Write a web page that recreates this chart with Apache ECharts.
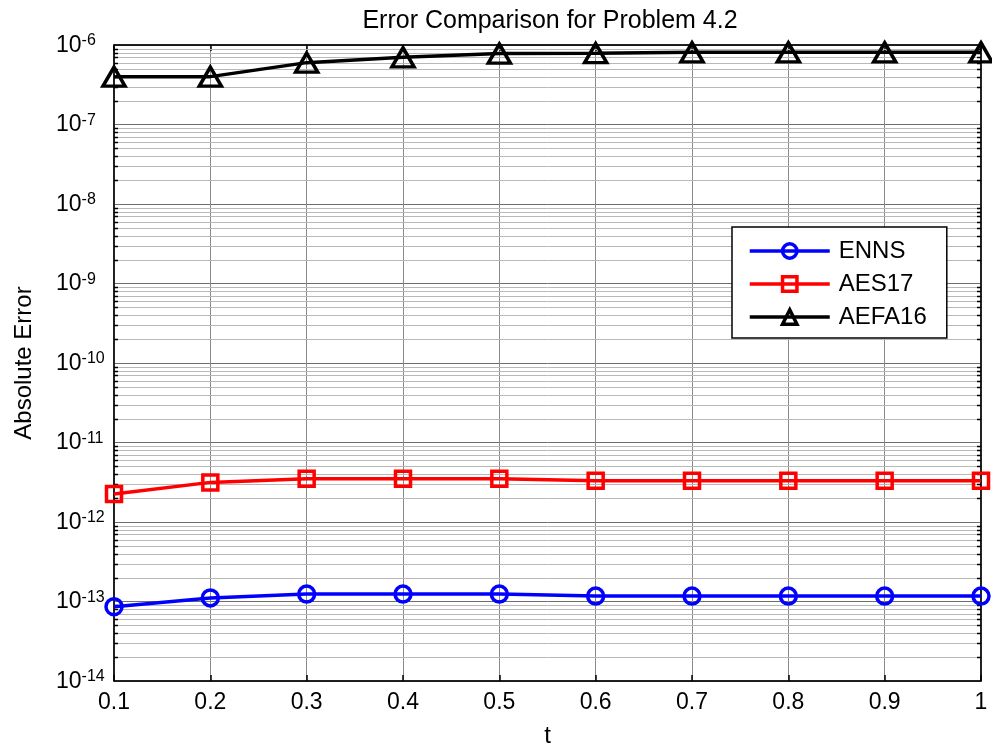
<!DOCTYPE html>
<html>
<head>
<meta charset="utf-8">
<script src="https://cdn.jsdelivr.net/npm/echarts@6/dist/echarts.min.js"></script>
<style>html,body{margin:0;padding:0;background:#fff;}#c{width:992px;height:745px;}</style>
</head>
<body>
<div id="c"></div>
<script>
var tLabels = ['0.1','0.2','0.3','0.4','0.5','0.6','0.7','0.8','0.9','1'];
var enns   = [8.6e-14, 1.11e-13, 1.24e-13, 1.24e-13, 1.24e-13, 1.17e-13, 1.17e-13, 1.17e-13, 1.17e-13, 1.17e-13];
var aes17  = [2.25e-12, 3.15e-12, 3.5e-12, 3.5e-12, 3.5e-12, 3.3e-12, 3.3e-12, 3.3e-12, 3.3e-12, 3.3e-12];
var aefa16 = [4.0e-7, 4.0e-7, 6.0e-7, 7.0e-7, 7.8e-7, 7.9e-7, 8.1e-7, 8.1e-7, 8.1e-7, 8.1e-7];
var seriesNames = ['ENNS', 'AES17', 'AEFA16'];

var FONT = "Arial, 'Liberation Sans', sans-serif";

// minor log grid values (2..9 x 10^e)
var minorVals = [];
for (var e = -14; e < -6; e++) {
  for (var k = 2; k <= 9; k++) {
    minorVals.push([0, k * Math.pow(10, e)]);
  }
}

var chart = echarts.init(document.getElementById('c'), null, { renderer: 'canvas' });

function mk(name, data, color, symbol, size) {
  return {
    name: name,
    type: 'line',
    data: data,
    symbol: symbol,
    symbolSize: size,
    showAllSymbol: true,
    clip: false,
    lineStyle: { color: color, width: 3.5 },
    itemStyle: { color: 'rgba(0,0,0,0)', borderColor: color, borderWidth: 3.5 },
    emphasis: { disabled: true },
    z: 5
  };
}

var minorGrid = {
  type: 'custom',
  name: 'minorGrid',
  silent: true,
  z: 1,
  data: minorVals,
  encode: { x: 0, y: 1 },
  renderItem: function (params, api) {
    var cs = params.coordSys;
    var y = Math.round(api.coord([0, api.value(1)])[1]) + 0.5;
    return {
      type: 'group',
      children: [
        { type: 'line', shape: { x1: cs.x, y1: y, x2: cs.x + cs.width, y2: y },
          style: { stroke: '#b8b8b8', lineWidth: 1 } },
        { type: 'line', shape: { x1: cs.x, y1: y, x2: cs.x + 4, y2: y },
          style: { stroke: '#000', lineWidth: 1.5 } },
        { type: 'line', shape: { x1: cs.x + cs.width - 4, y1: y, x2: cs.x + cs.width, y2: y },
          style: { stroke: '#000', lineWidth: 1.5 } }
      ]
    };
  }
};

var option = {
  animation: false,
  backgroundColor: '#fff',
  title: {
    text: 'Error Comparison for Problem 4.2',
    left: 545, textAlign: 'center',
    top: 4,
    textStyle: { fontFamily: FONT, fontSize: 25, fontWeight: 'normal', color: '#000' }
  },
  grid: {
    left: 114, right: 11, top: 45, bottom: 64,
    outerBoundsMode: 'none',
    containLabel: false,
    show: true, borderColor: '#000', borderWidth: 1, backgroundColor: 'transparent'
  },
  legend: {
    orient: 'vertical',
    left: 732, top: 227,
    data: seriesNames,
    itemWidth: 80, itemHeight: 18, itemGap: 9,
    padding: [12, 20, 9, 16],
    backgroundColor: '#fff',
    borderColor: '#000', borderWidth: 1.5,
    itemStyle: { borderWidth: 3.5 },
    lineStyle: { width: 3.5 },
    textStyle: { fontFamily: FONT, fontSize: 24, color: '#000', padding: [0, 0, 0, 4] },
    selectedMode: false,
    z: 10
  },
  xAxis: [{
    type: 'category',
    data: tLabels,
    boundaryGap: false,
    name: 't',
    nameLocation: 'middle',
    nameGap: 43,
    nameTextStyle: { fontFamily: FONT, fontSize: 24, color: '#000' },
    axisLine: { lineStyle: { color: '#000', width: 1.5 } },
    axisTick: { inside: true, length: 6, lineStyle: { color: '#000', width: 1.5 }, alignWithLabel: true },
    axisLabel: { fontFamily: FONT, fontSize: 23, color: '#000', margin: 10 },
    splitLine: { show: true, lineStyle: { color: '#8a8a8a', width: 1 } }
  }, {
    type: 'category',
    data: tLabels,
    boundaryGap: false,
    position: 'top',
    axisLine: { lineStyle: { color: '#000', width: 1.5 } },
    axisTick: { inside: true, length: 6, lineStyle: { color: '#000', width: 1.5 } },
    axisLabel: { show: false },
    splitLine: { show: false }
  }],
  yAxis: [{
    type: 'log',
    logBase: 10,
    min: 1e-14,
    max: 1e-6,
    splitNumber: 8,
    name: 'Absolute Error',
    nameLocation: 'middle',
    nameGap: 78,
    nameTextStyle: { fontFamily: FONT, fontSize: 24, color: '#000' },
    axisLine: { show: true, lineStyle: { color: '#000', width: 1.5 } },
    axisTick: { inside: true, length: 7, lineStyle: { color: '#000', width: 1.5 } },
    axisLabel: {
      margin: 58,
      align: 'left',
      formatter: function (v) {
        var ex = Math.round(Math.log10(v));
        return '{b|10}{s|' + ex + '}';
      },
      rich: {
        b: { fontFamily: FONT, fontSize: 23, color: '#000', verticalAlign: 'bottom', lineHeight: 24, padding: [10, 0, 0, 0] },
        s: { fontFamily: FONT, fontSize: 16, color: '#000', verticalAlign: 'top', lineHeight: 16, padding: [0, 0, 16, 0] }
      }
    },
    splitLine: { show: true, lineStyle: { color: '#6e6e6e', width: 1 } }
  }, {
    type: 'log',
    logBase: 10,
    min: 1e-14,
    max: 1e-6,
    splitNumber: 8,
    position: 'right',
    axisLine: { show: true, lineStyle: { color: '#000', width: 1.5 } },
    axisTick: { inside: true, length: 7, lineStyle: { color: '#000', width: 1.5 } },
    axisLabel: { show: false },
    splitLine: { show: false }
  }],
  series: [
    minorGrid,
    mk(seriesNames[0], enns, '#0000ff', 'circle', 16),
    mk(seriesNames[1], aes17, '#ff0000', 'rect', 15),
    mk(seriesNames[2], aefa16, '#000000', 'triangle', [22, 19])
  ]
};
chart.setOption(option);
</script>
</body>
</html>
